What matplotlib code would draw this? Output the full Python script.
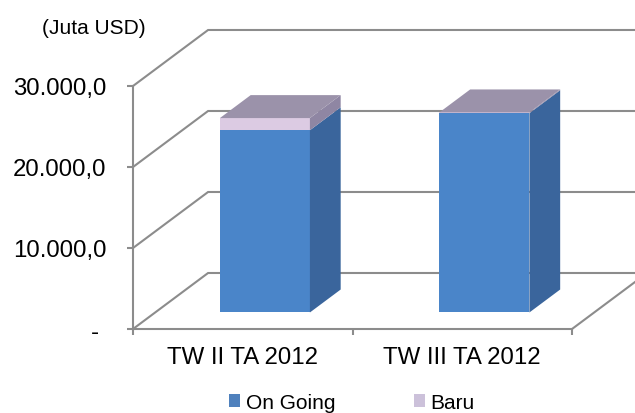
import matplotlib.pyplot as plt
from matplotlib.patches import Patch, Polygon
from matplotlib.ticker import FuncFormatter

plt.rcParams["font.family"] = ["Liberation Sans", "DejaVu Sans"]

categories = ["TW II TA 2012", "TW III TA 2012"]
series_names = ["On Going", "Baru"]
on_going = [22500, 24600]
baru = [1500, 100]
y_ticks = [0, 10000, 20000, 30000]
unit_label = "(Juta USD)"

# oblique projection of the depth axis, expressed in data units
DEPTH_X = 0.342
DEPTH_Y = 6914
BAR_HALF = 0.205
BAR_FRONT, BAR_BACK = 0.295, 0.705

GRID = "#8c8c8c"
FRONT = ["#4a85c9", "#dccbe3"]
SIDE = ["#3a659c", "#8f86a3"]
TOP = "#9b92aa"
LEGEND = ["#4f81bd", "#ccc1da"]


def fmt_value(v, _pos=None):
    if v == 0:
        return "- "
    s = f"{v:,.1f}"
    return s.replace(",", "X").replace(".", ",").replace("X", ".")


fig = plt.figure(figsize=(6.35, 4.14), dpi=100)
ax = fig.add_axes([0, 0, 1, 1])
ax.set_xlim(-1.106, 1.787)
ax.set_ylim(-10370, 40740)
ax.patch.set_visible(False)

# side wall and back wall gridlines
for v in y_ticks:
    ax.plot([-0.5, -0.5 + DEPTH_X, 2.5], [v, v + DEPTH_Y, v + DEPTH_Y],
            color=GRID, lw=1.5, zorder=1, solid_joinstyle="miter")
# right edge of the floor
ax.plot([1.5, 1.5 + DEPTH_X], [0, DEPTH_Y], color=GRID, lw=1.5, zorder=1)

# front faces of the stacked bars
x_front = [i + BAR_FRONT * DEPTH_X for i in range(len(categories))]
y_off = BAR_FRONT * DEPTH_Y
ddx = (BAR_BACK - BAR_FRONT) * DEPTH_X
ddy = (BAR_BACK - BAR_FRONT) * DEPTH_Y
stacks = [on_going, baru]
bottoms = [0] * len(categories)
for k, values in enumerate(stacks):
    ax.bar(x_front, values, width=2 * BAR_HALF,
           bottom=[y_off + b for b in bottoms], color=FRONT[k], zorder=3)
    # right-hand side faces
    for xf, b, v in zip(x_front, bottoms, values):
        xr = xf + BAR_HALF
        y0, y1 = y_off + b, y_off + b + v
        ax.add_patch(Polygon([(xr, y0), (xr + ddx, y0 + ddy),
                              (xr + ddx, y1 + ddy), (xr, y1)],
                             closed=True, facecolor=SIDE[k], edgecolor="none", zorder=3))
    bottoms = [b + v for b, v in zip(bottoms, values)]

# top faces
for xf, total in zip(x_front, bottoms):
    xl, xr = xf - BAR_HALF, xf + BAR_HALF
    t = y_off + total
    ax.add_patch(Polygon([(xl, t), (xr, t), (xr + ddx, t + ddy), (xl + ddx, t + ddy)],
                         closed=True, facecolor=TOP, edgecolor="none", zorder=3))

# front axes
for s in ("top", "right"):
    ax.spines[s].set_visible(False)
ax.spines["left"].set_position(("data", -0.5))
ax.spines["left"].set_bounds(0, 30000)
ax.spines["bottom"].set_position(("data", 0))
ax.spines["bottom"].set_bounds(-0.5, 1.5)
for s in ("left", "bottom"):
    ax.spines[s].set_color(GRID)
    ax.spines[s].set_linewidth(1.5)
    ax.spines[s].set_zorder(2)

ax.set_yticks(y_ticks)
ax.yaxis.set_major_formatter(FuncFormatter(fmt_value))
ax.tick_params(axis="y", direction="out", length=4.3, width=1.5, color=GRID,
               pad=15, labelsize=17.3)
ax.set_xticks([-0.5, 0.5, 1.5])
ax.set_xticklabels([])
ax.set_xticks(range(len(categories)), minor=True)
ax.set_xticklabels(categories, minor=True)
ax.tick_params(axis="x", which="major", direction="out", length=4, width=1.5, color=GRID)
ax.tick_params(axis="x", which="minor", length=0, pad=12, labelsize=17.3)

fig.text(94 / 635, 1 - 28 / 414, unit_label, ha="center", va="center", fontsize=15)

handles = [Patch(facecolor=c, edgecolor="none") for c in LEGEND]
fig.legend(handles, series_names, loc="lower center", bbox_to_anchor=(352 / 635, 1 / 414),
           ncol=2, frameon=False, fontsize=15, handlelength=0.53, handleheight=0.53,
           handletextpad=0.25, columnspacing=3.8, borderpad=0, borderaxespad=0)

fig.savefig("out.png", dpi=100)
